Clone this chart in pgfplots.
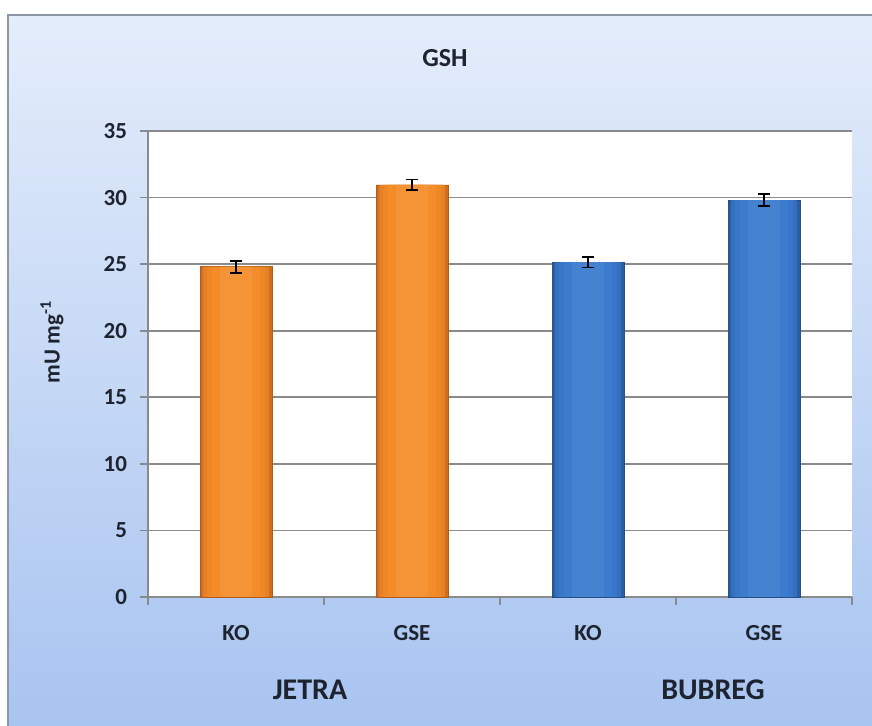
\documentclass[border=0pt]{standalone}
\usepackage{pgfplots}
\usepackage{pgfplotstable}
\pgfplotsset{compat=1.18}
\usepackage{fontspec}
\setmainfont{Carlito}
\definecolor{bgtop}{HTML}{E4EDFB}
\definecolor{bgbot}{HTML}{A8C4F0}
\definecolor{ormid}{HTML}{F48D29}
\definecolor{oredge}{HTML}{CF6D1E}
\definecolor{blmid}{HTML}{3B7CCE}
\definecolor{bledge}{HTML}{2A5DA2}
\definecolor{gridc}{HTML}{8A8A8A}
\definecolor{framec}{HTML}{8C96A6}
\definecolor{txt}{HTML}{1E2330}
\pgfplotstableread{
x y err
0 24.8 0.45
1 30.95 0.4
}\jetra
\pgfplotstableread{
x y err
2 25.15 0.4
3 29.8 0.45
}\bubreg
\pgfplotsset{
  errstyle/.style={draw=none, forget plot,
    error bars/.cd, y dir=both, y explicit,
    error bar style={black, line width=0.9pt},
    error mark options={rotate=90, black, mark size=3pt, line width=0.9pt}},
  lay/.style 2 args={ybar, bar shift=0pt, bar width=#1, draw=none, fill=#2, forget plot},
}
\begin{document}
\begin{tikzpicture}
\path[use as bounding box] (0,0) rectangle (436pt,363pt);
\fill[white] (0,0) rectangle (436pt,363pt);
\shade[top color=bgtop, bottom color=bgbot] (4pt,0) rectangle (436pt,355.5pt);
\draw[framec, line width=1pt] (4pt,0) -- (4pt,355.5pt) -- (436pt,355.5pt);
\begin{axis}[
  at={(74pt,64.5pt)}, anchor=south west,
  scale only axis, width=352pt, height=233pt,
  xmin=-0.5, xmax=3.5, ymin=0, ymax=35,
  ytick={0,5,...,35},
  xtick={-0.5,0.5,1.5,2.5,3.5}, xticklabels={},
  extra x ticks={0,1,2,3},
  extra x tick labels={KO,GSE,KO,GSE},
  extra x tick style={major tick length=0pt, xticklabel style={anchor=center, yshift=-18pt}},
  axis lines*=left,
  axis line style={gridc, line width=0.8pt},
  ymajorgrids, grid style={gridc, line width=0.8pt},
  tick align=outside, major tick length=4pt,
  tick style={gridc, line width=0.8pt},
  tick label style={font=\fontsize{11.5}{13}\selectfont\bfseries, text=txt},
  yticklabel style={xshift=-3pt},
  /pgf/number format/assume math mode=true,
  axis background/.style={fill=white},
  clip=false,
]
% orange bars (JETRA), layered to give a rounded look
\addplot[lay={36pt}{oredge}, draw=oredge!85!black, line width=0.3pt] table[x=x,y=y] {\jetra};
\addplot[lay={33pt}{ormid!60!oredge}] table[x=x,y=y] {\jetra};
\addplot[lay={29pt}{ormid!85!oredge}] table[x=x,y=y] {\jetra};
\addplot[lay={24pt}{ormid}] table[x=x,y=y] {\jetra};
\addplot[lay={16pt}{ormid!94!white}] table[x=x,y=y] {\jetra};
% blue bars (BUBREG)
\addplot[lay={36pt}{bledge}, draw=bledge!85!black, line width=0.3pt] table[x=x,y=y] {\bubreg};
\addplot[lay={33pt}{blmid!60!bledge}] table[x=x,y=y] {\bubreg};
\addplot[lay={29pt}{blmid!85!bledge}] table[x=x,y=y] {\bubreg};
\addplot[lay={24pt}{blmid}] table[x=x,y=y] {\bubreg};
\addplot[lay={16pt}{blmid!95!white}] table[x=x,y=y] {\bubreg};
% error bars
\addplot[errstyle] table[x=x,y=y,y error=err] {\jetra};
\addplot[errstyle] table[x=x,y=y,y error=err] {\bubreg};
\end{axis}
\node[font=\fontsize{13}{15}\selectfont\bfseries, text=txt] at (222.5pt,334pt) {GSH};
\node[font=\fontsize{11.5}{13}\selectfont\bfseries, text=txt, rotate=90] at (26pt,192pt) {mU mg\textsuperscript{-1}};
\node[font=\fontsize{15}{17}\selectfont\bfseries, text=txt] at (155pt,18pt) {JETRA};
\node[font=\fontsize{15}{17}\selectfont\bfseries, text=txt] at (356.5pt,18pt) {BUBREG};
\end{tikzpicture}
\end{document}
